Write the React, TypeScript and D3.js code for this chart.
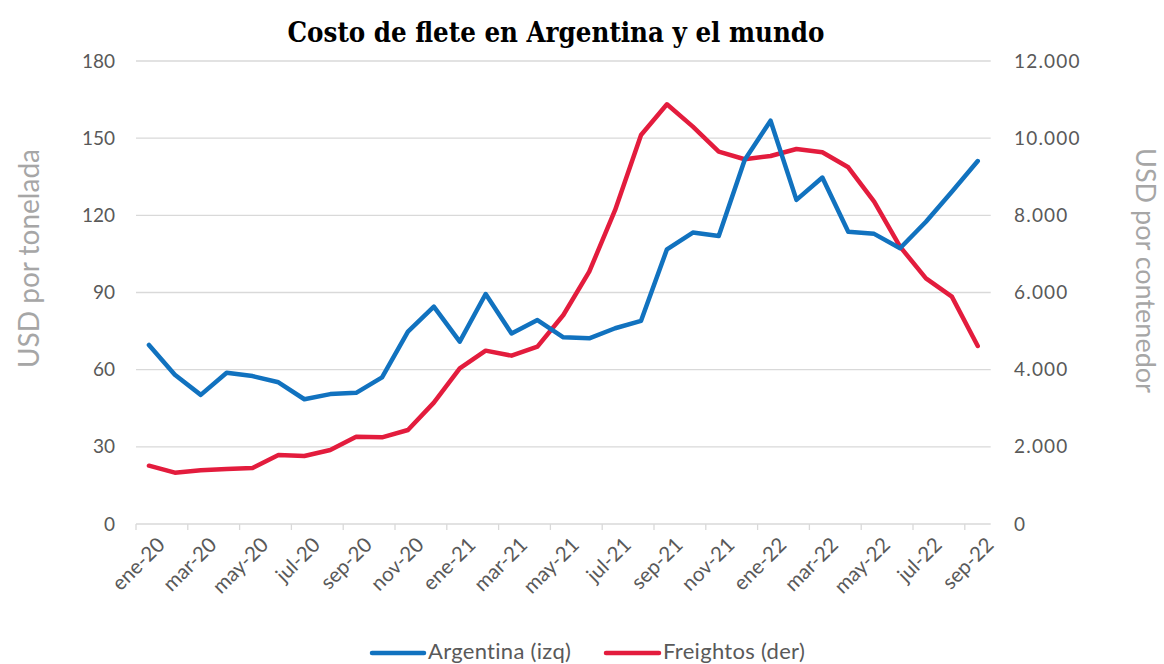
import React from "react";
import * as d3 from "d3";

const months = ["ene","feb","mar","abr","may","jun","jul","ago","sep","oct","nov","dic"];
const categories: string[] = [];
for (let y = 20; y <= 22; y++) for (let m = 0; m < 12; m++) if (!(y === 22 && m > 8)) categories.push(`${months[m]}-${y}`);

const argentina = [69.6, 58, 50.2, 58.8, 57.5, 55.1, 48.5, 50.5, 51, 57, 74.8, 84.5, 70.9, 89.4, 74.1, 79.3, 72.6, 72.2, 76.1, 79, 106.8, 113.3, 112, 141.5, 156.8, 126, 134.7, 113.6, 112.8, 107.2, 117.5, 129.2, 141.1];
const freightos = [1511, 1330, 1391, 1425, 1451, 1788, 1762, 1918, 2263, 2246, 2436, 3145, 4035, 4493, 4363, 4597, 5417, 6540, 8139, 10083, 10878, 10298, 9650, 9453, 9538, 9720, 9634, 9245, 8354, 7188, 6368, 5892, 4614];

const leftTicks = [0, 30, 60, 90, 120, 150, 180];
const rightTicks = [0, 2000, 4000, 6000, 8000, 10000, 12000];

const W = 1164, H = 664;
const L = 136, R = 990.7, T = 61, B = 524;

export default function App() {
  const x = d3.scaleBand<string>().domain(categories).range([L, R]);
  const yL = d3.scaleLinear().domain([0, 180]).range([B, T]);
  const yR = d3.scaleLinear().domain([0, 12000]).range([B, T]);
  const cx = (c: string) => (x(c) as number) + x.bandwidth() / 2;

  const lineA = d3.line<number>().x((_, i) => cx(categories[i])).y((d) => yL(d));
  const lineF = d3.line<number>().x((_, i) => cx(categories[i])).y((d) => yR(d));

  const fmtR = (v: number) => (v === 0 ? "0" : d3.format(",")(v).replace(/,/g, "."));
  const labelFont = "Lato, 'Open Sans', sans-serif";

  return (
    <svg width={W} height={H} style={{ position: "absolute", left: 0, top: 0, background: "#fff" }}>
      <text x={556} y={42} textAnchor="middle" fontFamily="'DejaVu Serif', serif" fontWeight="bold" fontSize={27} fill="#000" textLength={537} lengthAdjust="spacingAndGlyphs">
        Costo de flete en Argentina y el mundo
      </text>

      {leftTicks.map((t) => (
        t === 0 ? null : <line key={t} x1={L} x2={R} y1={yL(t)} y2={yL(t)} stroke="#d9d9d9" strokeWidth={1.3} />
      ))}
      <line x1={L} x2={R} y1={B} y2={B} stroke="#d9d9d9" strokeWidth={1.3} />
      {categories.map((c, i) => (i % 2 === 0 ? <line key={c} x1={x(c)} x2={x(c)} y1={B} y2={B + 6} stroke="#d9d9d9" strokeWidth={1.3} /> : null))}

      {leftTicks.map((t) => (
        <text key={t} x={115} y={yL(t)} dy="0.35em" textAnchor="end" fontFamily={labelFont} fontSize={19} fill="#595959">{t}</text>
      ))}
      {rightTicks.map((t) => (
        <text key={t} x={1014} y={yR(t)} dy="0.35em" textAnchor="start" fontFamily={labelFont} fontSize={19} fill="#595959" letterSpacing={1.2}>{fmtR(t)}</text>
      ))}

      {categories.map((c, i) => (i % 2 === 0 ? (
        <text key={c} transform={`translate(${cx(c) + 7},${B + 12}) rotate(-45)`} textAnchor="end" dy="0.7em" fontFamily={labelFont} fontSize={20.5} fill="#595959">{c}</text>
      ) : null))}

      <text transform={`translate(39,${(T + B) / 2 - 34}) rotate(-90)`} textAnchor="middle" fontFamily={labelFont} fontSize={28} fill="#a6a6a6">USD por tonelada</text>
      <text transform={`translate(1136,${(T + B) / 2 - 22}) rotate(90)`} textAnchor="middle" fontFamily={labelFont} fontSize={27} fill="#a6a6a6">USD por contenedor</text>

      <path d={lineF(freightos) || ""} fill="none" stroke="#e31c3d" strokeWidth={4.5} strokeLinejoin="round" strokeLinecap="round" />
      <path d={lineA(argentina) || ""} fill="none" stroke="#1172bf" strokeWidth={4.5} strokeLinejoin="round" strokeLinecap="round" />

      <line x1={372} x2={424} y1={653} y2={653} stroke="#1172bf" strokeWidth={4.5} strokeLinecap="round" />
      <text x={428} y={659} fontFamily={labelFont} fontSize={22} fill="#595959" letterSpacing={0.3}>Argentina (izq)</text>
      <line x1={606} x2={659} y1={653} y2={653} stroke="#e31c3d" strokeWidth={4.5} strokeLinecap="round" />
      <text x={663} y={659} fontFamily={labelFont} fontSize={22} fill="#595959" letterSpacing={0.3}>Freightos (der)</text>
    </svg>
  );
}
